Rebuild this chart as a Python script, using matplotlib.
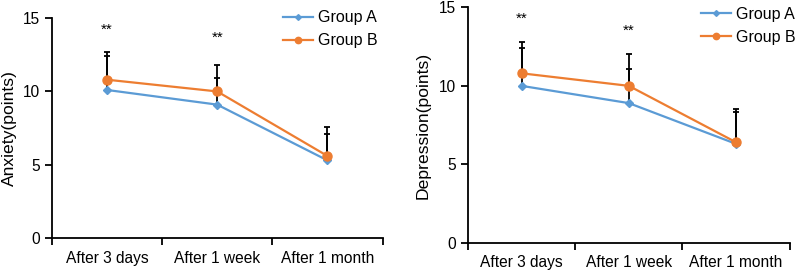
import numpy as np
import matplotlib
matplotlib.use("Agg")
import matplotlib.pyplot as plt
from matplotlib.ticker import FixedLocator, NullFormatter

plt.rcParams['font.family'] = ['Liberation Sans', 'DejaVu Sans']

# data
categories = ["After 3 days", "After 1 week", "After 1 month"]

anx_a = [10.1, 9.1, 5.3]
anx_b = [10.8, 10.0, 5.6]
anx_a_top = [12.4, 10.9, 7.1]
anx_b_top = [12.7, 11.8, 7.6]

dep_a = [10.0, 8.9, 6.3]
dep_b = [10.8, 10.0, 6.4]
dep_a_top = [12.4, 11.1, 8.35]
dep_b_top = [12.8, 12.05, 8.5]

stars = ["**", "**", ""]
anx_star_y = [14.2, 13.65, None]
dep_star_y = [14.25, 13.5, None]

BLUE = "#5b9bd5"
ORANGE = "#ed7d31"


def draw_panel(ax, a, b, a_top, b_top, star_y, ylabel, leg_xy, ylpad):
    x = np.arange(len(categories))
    # error bars, upward only
    for vals, tops in ((a, a_top), (b, b_top)):
        up = np.array(tops) - np.array(vals)
        ax.errorbar(x, vals, yerr=[np.zeros_like(up), up], fmt='none',
                    ecolor='black', elinewidth=1.3, capsize=2.5, capthick=1.3,
                    zorder=2)
    ax.plot(x, a, color=BLUE, marker='D', markersize=4.2, lw=1.6,
            label="Group A", zorder=3)
    ax.plot(x, b, color=ORANGE, marker='o', markersize=6.5, lw=1.6,
            label="Group B", zorder=3)
    for xi, s, yy in zip(x, stars, star_y):
        if s:
            ax.text(xi, yy, s, ha='center', va='center', fontsize=11)

    ax.set_xlim(-0.5, 2.5)
    ax.set_ylim(0, 15)
    ax.set_yticks([0, 5, 10, 15])
    ax.xaxis.set_major_locator(FixedLocator([-0.5, 0.5, 1.5, 2.5]))
    ax.xaxis.set_major_formatter(NullFormatter())
    ax.xaxis.set_minor_locator(FixedLocator(x))
    ax.set_xticklabels(categories, minor=True)
    ax.tick_params(axis='x', which='minor', length=0, pad=9, labelsize=11.2)
    ax.tick_params(axis='x', which='major', length=5, width=1.3, direction='out')
    ax.tick_params(axis='y', length=5, width=1.3, labelsize=11.2)
    for side in ('top', 'right'):
        ax.spines[side].set_visible(False)
    for side in ('left', 'bottom'):
        ax.spines[side].set_linewidth(1.3)
    ax.set_ylabel(ylabel, fontsize=12.6, labelpad=ylpad)
    leg = ax.legend(loc='upper left', bbox_to_anchor=leg_xy,
                    bbox_transform=ax.figure.transFigure, frameon=False,
                    fontsize=11.5, handlelength=1.9, handletextpad=0.3,
                    labelspacing=0.5, borderpad=0, borderaxespad=0,
                    markerscale=0.7)
    return leg


fig = plt.figure(figsize=(7.97, 2.74), dpi=100)
ax1 = fig.add_axes([0.065, 0.131, 0.415, 0.803])
ax2 = fig.add_axes([0.587, 0.114, 0.404, 0.859])

draw_panel(ax1, anx_a, anx_b, anx_a_top, anx_b_top, anx_star_y,
           "Anxiety(points)", (0.355, 0.962), 4)
draw_panel(ax2, dep_a, dep_b, dep_a_top, dep_b_top, dep_star_y,
           "Depression(points)", (0.879, 0.975), 6)

fig.savefig("out.png", dpi=100)
